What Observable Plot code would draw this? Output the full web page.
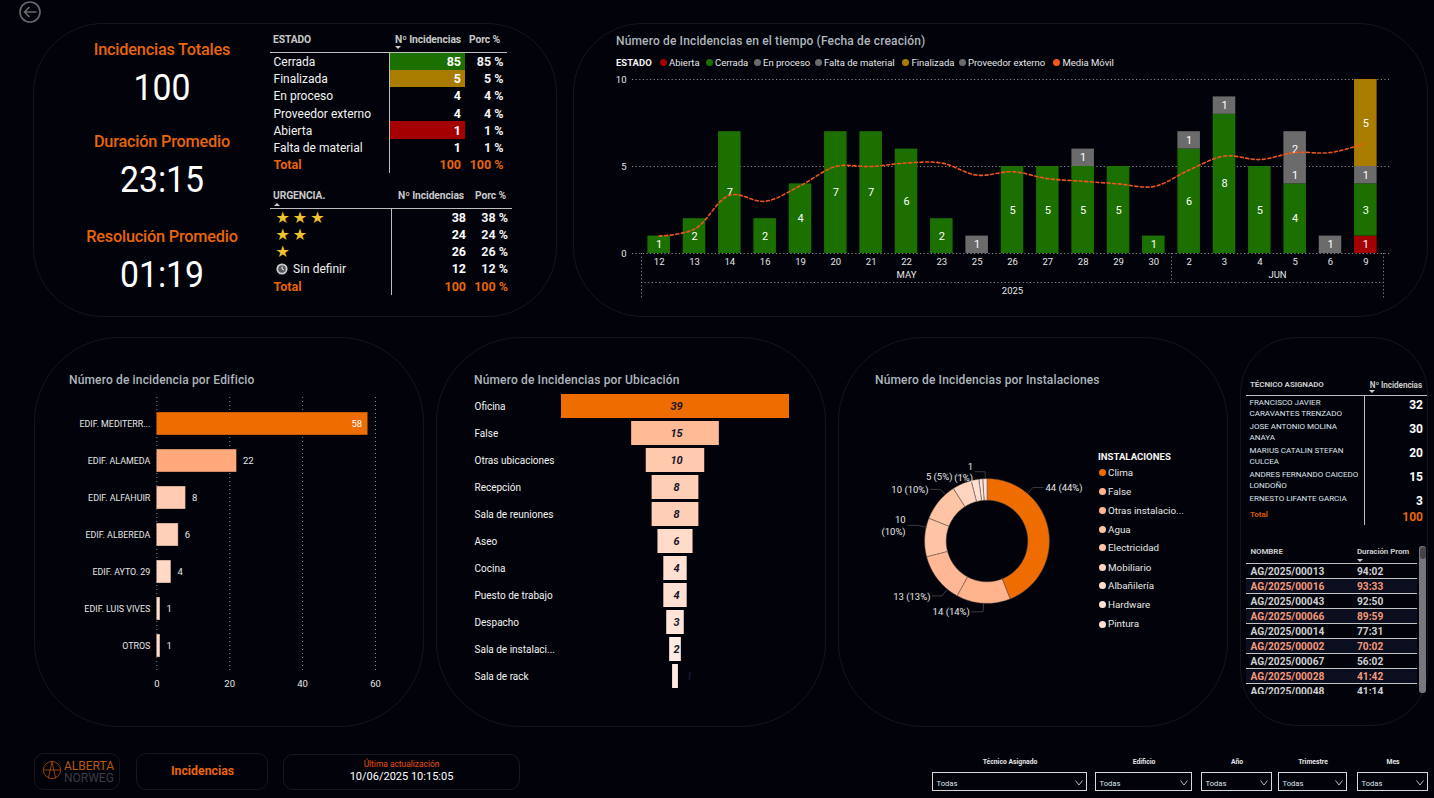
<!DOCTYPE html>
<html lang="es">
<head>
<meta charset="utf-8">
<title>Incidencias</title>
<script src="https://cdn.jsdelivr.net/npm/d3@7"></script>
<script src="https://cdn.jsdelivr.net/npm/@observablehq/plot@0.6"></script>
<style>
  html,body{margin:0;padding:0;background:#02030a;overflow:hidden}
  #page{position:relative;width:1434px;height:798px;background:#02030a;overflow:hidden;font-family:Roboto,sans-serif;color:#fff}
  #page div,#page span{white-space:nowrap}
  #page svg{display:block}
  .abs{position:absolute}
  svg.plot-abs{position:absolute;overflow:visible;background:transparent}
</style>
</head>
<body>
<div id="page"></div>
<script>
// ---------- DATA ----------
const totalIncidencias = "100";
const duracionPromedio = "23:15";
const resolucionPromedio = "01:19";

const estadoNames  = ["Cerrada","Finalizada","En proceso","Proveedor externo","Abierta","Falta de material"];
const estadoCounts = [85,5,4,4,1,1];
const urgenciaCounts = [38,24,26,12];
const urgenciaStars  = ["★★★","★★","★",""];

const estadoOrder = ["Abierta","Cerrada","En proceso","Falta de material","Finalizada","Proveedor externo"];
const dayLabels = ["12","13","14","16","19","20","21","22","23","25","26","27","28","29","30","2","3","4","5","6","9"];
const abierta    = [0,0,0,0,0,0,0,0,0,0,0,0,0,0,0,0,0,0,0,0,1];
const cerrada    = [1,2,7,2,4,7,7,6,2,0,5,5,5,5,1,6,8,5,4,0,3];
const enProceso  = [0,0,0,0,0,0,0,0,0,0,0,0,1,0,0,0,1,0,0,1,1];
const faltaMat   = [0,0,0,0,0,0,0,0,0,0,0,0,0,0,0,0,0,0,1,0,0];
const finalizada = [0,0,0,0,0,0,0,0,0,0,0,0,0,0,0,0,0,0,0,0,5];
const proveedor  = [0,0,0,0,0,0,0,0,0,1,0,0,0,0,0,1,0,0,2,0,0];
const mediaMovil = [1.0,1.4,3.35,3.0,3.9,5.0,5.0,5.2,5.2,4.5,4.7,4.3,4.15,4.0,3.85,4.8,5.6,5.4,5.8,5.8,6.35];
const monthNames = ["MAY","JUN"];
const monthEdges = [0,15,21];
const yearName = "2025";

const edificios = ["EDIF. MEDITERR...","EDIF. ALAMEDA","EDIF. ALFAHUIR","EDIF. ALBEREDA","EDIF. AYTO. 29","EDIF. LUIS VIVES","OTROS"];
const edificioValues = [58,22,8,6,4,1,1];

const ubicaciones = ["Oficina","False","Otras ubicaciones","Recepción","Sala de reuniones","Aseo","Cocina","Puesto de trabajo","Despacho","Sala de instalaci...","Sala de rack"];
const ubicacionValues = [39,15,10,8,8,6,4,4,3,2,1];

const instalaciones = ["Clima","False","Otras instalacio...","Agua","Electricidad","Mobiliario","Albañilería","Hardware","Pintura"];
const instalacionValues = [44,14,13,10,10,5,2,1,1];

const tecnicos = [["FRANCISCO JAVIER","CARAVANTES TRENZADO"],["JOSE ANTONIO MOLINA","ANAYA"],["MARIUS CATALIN STEFAN","CULCEA"],["ANDRES FERNANDO CAICEDO","LONDOÑO"],["ERNESTO LIFANTE GARCIA"]];
const tecnicoValues = [32,30,20,15,3];
const nombres = ["AG/2025/00013","AG/2025/00016","AG/2025/00043","AG/2025/00066","AG/2025/00014","AG/2025/00002","AG/2025/00067","AG/2025/00028","AG/2025/00048"];
const duraciones = ["94:02","93:33","92:50","89:59","77:31","70:02","56:02","41:42","41:14"];
const filtros = ["Técnico Asignado","Edificio","Año","Trimestre","Mes"];

// ---------- STYLE / LAYOUT CONSTANTS ----------
const ORANGE="#ee6c00", GREEN="#1c7000", GOLD="#a97c00", GRAY="#6b6b6b", RED="#a40000", LINE="#f0561c";
const FONT="Roboto, sans-serif";
const page=document.getElementById("page");

function box(x,y,w,h,css=""){const d=document.createElement("div");d.className="abs";
  d.style.cssText=`left:${x}px;top:${y}px;width:${w}px;height:${h}px;${css}`;page.appendChild(d);return d;}
// text centred vertically on y; align: l (x = left edge), r (x = right edge), c (x = centre)
function put(t,x,y,size,color,align="l",css="",parent=page){const d=document.createElement("div");d.className="abs";
  const tx=align==="r"?"-100%":align==="c"?"-50%":"0";
  d.style.cssText=`left:${x}px;top:${y}px;transform:translate(${tx},-50%);font-size:${size}px;color:${color};line-height:1;${css}`;
  d.textContent=t;parent.appendChild(d);return d;}
function place(svg,x,y){svg.classList.add("plot-abs");svg.style.left=x+"px";svg.style.top=y+"px";page.appendChild(svg);return svg;}
// small sort marker
function tri(x,y,up){const d=box(x-3,y,0,0,`border-left:3px solid transparent;border-right:3px solid transparent;${up?"border-bottom":"border-top"}:3px solid #d0d0d0`);return d;}
const panelBorder="border:1px solid #15151b;box-sizing:border-box;";
const plotStyle={background:"transparent",color:"#e6e6e6",fontFamily:FONT,fontSize:"10px",overflow:"visible"};

// ---------- PANELS ----------
box(33,23,524,294,panelBorder+"border-radius:70px;");
box(573,23,855,294,panelBorder+"border-radius:70px;");
box(34,337,390,390,panelBorder+"border-radius:85px;");
box(436,337,390,390,panelBorder+"border-radius:85px;");
box(838,337,390,390,panelBorder+"border-radius:85px;");
box(1240,337,188,389,panelBorder+"border-radius:56px;");

// back arrow
{const d=box(19,1,22,22,"");d.innerHTML=`<svg width="22" height="22" viewBox="0 0 22 22" fill="none" stroke="#6a6a6a" stroke-width="1.6"><circle cx="11" cy="11" r="10"/><path d="M17.5 11H5.5M10.5 6l-5 5 5 5"/></svg>`;}

// ---------- KPI ----------
const kpiTitle="font-weight:500;letter-spacing:-.2px;";
const kpiNum=(t,y)=>{const e=put(t,162,y,37.5,"#fff","c");e.style.transform+=" scaleX(.9)";};
put("Incidencias Totales",162,49.5,16.3,"#e8650a","c",kpiTitle);
kpiNum(totalIncidencias,87.5);
put("Duración Promedio",162,141.5,16.3,"#e8650a","c",kpiTitle);
kpiNum(duracionPromedio,179.5);
put("Resolución Promedio",162,236.5,16.3,"#e8650a","c",kpiTitle);
kpiNum(resolucionPromedio,274.5);

// ---------- TABLE ESTADO ----------
const head="font-weight:700;letter-spacing:-.1px;";
put("ESTADO",273,39.5,10.3,"#c8c8c8","l",head);
put("Nº Incidencias",461,39.5,10.3,"#c8c8c8","r",head);
put("Porc %",500,39.5,10.3,"#c8c8c8","r",head);
tri(397.5,45.5,false);
box(270,52,237,1,"background:#bdbdbd");
box(389,53,1,120,"background:#bdbdbd");
const estadoY=[61.7,78.7,95.7,113.7,130.7,147.7];
const estadoFill={Cerrada:GREEN,Finalizada:GOLD,Abierta:RED};
const cellTop=[53,70,87,104,121,139,156];
const sum=a=>a.reduce((p,c)=>p+c,0);
estadoNames.forEach((n,i)=>{
  if(estadoFill[n]) box(390,cellTop[i],75,cellTop[i+1]-cellTop[i],`background:${estadoFill[n]}`);
  put(n,273.5,estadoY[i],12,"#f2f2f2");
  put(String(estadoCounts[i]),461,estadoY[i],12.5,"#fff","r","font-weight:700");
  put(estadoCounts[i]+" %",503.5,estadoY[i],12.5,"#f2f2f2","r","font-weight:700");
});
put("Total",273.5,164.7,12.5,"#e8650a","l","font-weight:700");
put(String(sum(estadoCounts)),461,164.7,12.5,"#e8650a","r","font-weight:700");
put(sum(estadoCounts)+" %",503.5,164.7,12.5,"#e8650a","r","font-weight:700");

// ---------- TABLE URGENCIA ----------
put("URGENCIA.",273,195.5,10.3,"#c8c8c8","l",head);
put("Nº Incidencias",464,195.5,10.3,"#c8c8c8","r",head);
put("Porc %",506,195.5,10.3,"#c8c8c8","r",head);
tri(277,202.5,true);
box(270,208,242,1,"background:#bdbdbd");
box(391,209,1,86,"background:#bdbdbd");
const urgY=[218.3,235,251.7,269.3];
urgenciaCounts.forEach((v,i)=>{
  if(urgenciaStars[i]) put(urgenciaStars[i],275.5,urgY[i],16,"#f1c232","l","font-family:'DejaVu Sans';letter-spacing:3px;");
  else{
    put("Sin definir",293,urgY[i],12,"#f2f2f2");
    const c=box(276,urgY[i]-6,12,12,"");
    c.innerHTML=`<svg width="12" height="12" viewBox="0 0 12 12"><circle cx="6" cy="6" r="5.6" fill="#cfcfcf"/><circle cx="6" cy="6" r="3.8" fill="#55575f"/><path d="M6 3.4V6l2 1" stroke="#fff" stroke-width=".9" fill="none"/></svg>`;
  }
  put(String(v),466,urgY[i],12.5,"#fff","r","font-weight:700");
  put(v+" %",508,urgY[i],12.5,"#f2f2f2","r","font-weight:700");
});
put("Total",273.5,286.7,12.5,"#e8650a","l","font-weight:700");
put(String(sum(urgenciaCounts)),466,286.7,12.5,"#e8650a","r","font-weight:700");
put(sum(urgenciaCounts)+" %",508,286.7,12.5,"#e8650a","r","font-weight:700");

// ---------- TIME CHART ----------
const titleCss="font-weight:500;letter-spacing:.15px;";
put("Número de Incidencias en el tiempo (Fecha de creación)",616,41,12,"#aeb5bc","l",titleCss);
put("ESTADO",616,62.5,9.5,"#f4f4f4","l","font-weight:700");
const legendItems=[["Abierta",RED,663],["Cerrada",GREEN,709],["En proceso",GRAY,757],["Falta de material",GRAY,818],["Finalizada",GOLD,905.5],["Proveedor externo",GRAY,962],["Media Móvil",LINE,1056.5]];
legendItems.forEach(([t,c,x])=>{
  box(x-3.5,59,7,7,`background:${c};border-radius:50%`);
  put(t,x+6,62.5,9.5,"#e6e6e6");
});
const estadoFillByName={"Abierta":RED,"Cerrada":GREEN,"En proceso":GRAY,"Falta de material":GRAY,"Finalizada":GOLD,"Proveedor externo":GRAY};
const estadoSeries={"Abierta":abierta,"Cerrada":cerrada,"En proceso":enProceso,"Falta de material":faltaMat,"Finalizada":finalizada,"Proveedor externo":proveedor};
const stacked=estadoOrder.flatMap(e=>estadoSeries[e].map((v,i)=>({i,estado:e,v})).filter(d=>d.v>0));
const dayIdx=dayLabels.map((_,i)=>i);
const monthLabels=monthNames.map((m,k)=>({x:(monthEdges[k]+monthEdges[k+1])/2,m}));
const dash={stroke:"#8a8a8a",strokeDasharray:"1.2,2.4",strokeWidth:1};
place(Plot.plot({
  width:800,height:240,marginLeft:41,marginRight:17,marginTop:9,marginBottom:57,
  style:plotStyle,
  x:{domain:[0,21],axis:null},
  y:{domain:[0,10],axis:null},
  color:{domain:estadoOrder,range:estadoOrder.map(e=>estadoFillByName[e])},
  marks:[
    Plot.ruleY([0,5,10],{...dash,insetLeft:-9,insetRight:-6}),
    Plot.axisY({ticks:[0,5,10],tickSize:0,tickPadding:15,label:null,fontSize:9.5}),
    Plot.axisX(monthEdges.filter(e=>e!==15),{tickSize:45,tickFormat:()=>"",...dash}),
    Plot.axisX([15],{tickSize:29,tickFormat:()=>"",...dash}),
    Plot.ruleY([0],{...dash,dy:29}),
    Plot.axisX(dayIdx.map(i=>i+.5),{tickSize:0,tickPadding:5,tickFormat:v=>dayLabels[v-.5],label:null,fontSize:9.5,color:"#e6e6e6"}),
    Plot.text(monthLabels,{x:"x",text:"m",frameAnchor:"bottom",dy:24,fontSize:9.5,fill:"#e6e6e6"}),
    Plot.text([yearName],{x:10.5,text:d=>d,frameAnchor:"bottom",dy:40,fontSize:9.5,fill:"#e6e6e6"}),
    Plot.rectY(stacked,{x:"i",y:"v",interval:1,fill:"estado",z:"estado",order:estadoOrder,insetLeft:6.4,insetRight:6.4}),
    Plot.text(stacked,Plot.stackY({x:d=>d.i+.5,y:"v",z:"estado",order:estadoOrder,text:"v",fill:"#fff",fontSize:11})),
    Plot.line(mediaMovil,{x:(d,i)=>i+.5,y:d=>d,curve:"catmull-rom",stroke:LINE,strokeWidth:1.6,strokeDasharray:"3,2.6"})
  ]
}),600,70);

// ---------- EDIFICIO ----------
put("Número de incidencia por Edificio",69,380,12,"#aeb5bc","l",titleCss);
const edificioData=edificios.map((n,i)=>({n,v:edificioValues[i]}));
const shadeDomain=[1,4,6,8,22,58];
const shadeRange=["#ffdccc","#ffd8c6","#ffd0b9","#ffccb3","#ffa97d",ORANGE];
const edificioTop=d3.max(edificioValues);
place(Plot.plot({
  width:380,height:310,marginLeft:116.3,marginRight:45,marginTop:7,marginBottom:28,
  style:plotStyle,
  x:{domain:[0,60],axis:null},
  y:{domain:edificios,padding:.375,axis:null},
  color:{type:"linear",domain:shadeDomain,range:shadeRange},
  marks:[
    Plot.gridX({ticks:[0,20,40,60],stroke:"#8a8a8a",strokeOpacity:1,strokeDasharray:"1,3"}),
    Plot.axisY({tickSize:0,tickPadding:6.5,label:null,fontSize:8.9,color:"#e6e6e6"}),
    Plot.axisX({ticks:[0,20,40,60],tickSize:0,tickPadding:8,label:null,fontSize:9.5,color:"#e6e6e6"}),
    Plot.barX(edificioData,{x:"v",y:"n",fill:"v",stroke:"#000",strokeOpacity:.35}),
    Plot.text(edificioData.filter(d=>d.v===edificioTop),{x:"v",y:"n",text:"v",textAnchor:"end",dx:-6,fill:"#fff",fontSize:9.5}),
    Plot.text(edificioData.filter(d=>d.v!==edificioTop),{x:"v",y:"n",text:"v",textAnchor:"start",dx:6,fill:"#e6e6e6",fontSize:9.5})
  ]
}),40,390);

// ---------- UBICACION (funnel) ----------
put("Número de Incidencias por Ubicación",474,380,12,"#aeb5bc","l",titleCss);
const ubicData=ubicaciones.map((n,i)=>({n,v:ubicacionValues[i]}));
place(Plot.plot({
  width:330,height:305,marginLeft:87,marginRight:15,marginTop:.7,marginBottom:1.3,
  style:plotStyle,
  x:{domain:[-19.5,19.5],axis:null},
  y:{domain:ubicaciones,padding:.12,axis:null},
  color:{type:"linear",domain:[1,2,3,4,6,8,10,15,39],range:["#ffe9e1","#ffebe3","#ffe5da","#ffe0d2","#ffdcca","#ffceb7","#ffc9ae","#ffba96",ORANGE]},
  marks:[
    Plot.barX(ubicData,{x1:d=>-d.v/2,x2:d=>d.v/2,y:"n",fill:"v"}),
    Plot.text(ubicData,{y:"n",text:"n",frameAnchor:"left",textAnchor:"start",dx:-87,fill:"#f2f2f2",fontSize:10}),
    Plot.text(ubicData.filter(d=>d.v>1),{x:0,y:"n",text:"v",dx:1,fill:"#16162a",fontSize:11,fontWeight:700,fontStyle:"italic"}),
    Plot.text(ubicData.filter(d=>d.v===1),{x:d=>d.v/2,y:"n",text:"v",dx:11,fill:"#16162a",fontSize:11,fontWeight:700,fontStyle:"italic"})
  ]
}),474,388.5);

// ---------- INSTALACIONES (donut) ----------
put("Número de Incidencias por Instalaciones",875,380,12,"#aeb5bc","l",titleCss);
const R0=40.8/62.3, R1=1;
const rad=d=>d*Math.PI/180;
const polar=(deg,r)=>({x:r*Math.sin(rad(deg)),y:r*Math.cos(rad(deg))});
const pieTotal=sum(instalacionValues);
let acum=0;
const ringPts=instalaciones.flatMap((n,k)=>{
  const a0=acum/pieTotal*360; acum+=instalacionValues[k]; const a1=acum/pieTotal*360;
  return d3.range(0,Math.ceil(a1-a0)+1).map(j=>{
    const a=Math.min(a0+j,a1), p0=polar(a,R0), p1=polar(a,R1);
    return {n,v:instalacionValues[k],x1:p0.x,y1:p0.y,x2:p1.x,y2:p1.y};
  });
});
// callouts: angle on the ring, elbow radius, horizontal run (radii), label text, side
const callouts=[
  {a:40,  e:1.13,run:.17, t:"44 (44%)",   side:1},
  {a:183.6,e:1.13,run:.18,t:"14 (14%)",   side:-1},
  {a:220, e:1.14,run:.15, t:"13 (13%)",   side:-1},
  {a:283, e:1.15,run:.16, t:"10\n(10%)",  side:-1},
  {a:318, e:1.125,run:.16,t:"10 (10%)",   side:-1},
  {a:340, e:1.12,run:.147,t:"5 (5%)",     side:-1},
  {a:358, e:1.12,run:.16, t:"1\n(1%)",    side:-1}
];
const leaderPts=callouts.flatMap((c,k)=>{
  const s=polar(c.a,1.01), m=polar(c.a,c.e);
  return [{k,...s},{k,...m},{k,x:m.x+c.side*c.run,y:m.y}];
});
const labelPts=callouts.map(c=>{const m=polar(c.a,c.e);return {x:m.x+c.side*c.run,y:m.y,t:c.t,side:c.side};});
const shade=d3.scaleLinear().domain([1,5,10,13,14,44]).range(["#ffe2d5","#ffd5c2","#ffc3a5","#ffb795","#ffb48e",ORANGE]);
place(Plot.plot({
  width:212,height:180,margin:0,
  style:{...plotStyle,overflow:"visible"},
  x:{domain:[-1.7,1.7],axis:null},
  y:{domain:[-1.4438,1.4438],axis:null},
  color:{type:"linear",domain:[1,5,10,13,14,44],range:["#ffe2d5","#ffd5c2","#ffc3a5","#ffb795","#ffb48e",ORANGE]},
  marks:[
    Plot.area(ringPts,{x1:"x1",y1:"y1",x2:"x2",y2:"y2",z:"n",fill:"v",stroke:"#5f5048",strokeWidth:.5}),
    Plot.line(leaderPts,{x:"x",y:"y",z:"k",stroke:"#4a4a4a",strokeWidth:.8}),
    Plot.text(labelPts.filter(d=>d.side>0),{x:"x",y:"y",text:"t",textAnchor:"start",dx:2,fill:"#e6e6e6",fontSize:9.5}),
    Plot.text(labelPts.filter(d=>d.side<0),{x:"x",y:"y",text:"t",textAnchor:"end",dx:-2,fill:"#e6e6e6",fontSize:9.5,lineHeight:1.2})
  ]
}),880.7,450.7);
put("INSTALACIONES",1098,456.5,9.6,"#f4f4f4","l","font-weight:700");
const instY=[472.7,491.7,510.7,529.7,547.7,567.7,585.7,604.7,624.3];
instalaciones.forEach((n,i)=>{
  box(1098.5,instY[i]-3.5,7,7,`background:${shade(instalacionValues[i])};border-radius:50%`);
  put(n,1108,instY[i],9.8,"#e6e6e6");
});

// ---------- TECNICOS ----------
put("TÉCNICO ASIGNADO",1250,384.5,8,"#c8c8c8","l",head);
put("Nº Incidencias",1422,384.5,8.2,"#c8c8c8","r",head);
tri(1371.5,390,false);
box(1246,395,181,1,"background:#bdbdbd");
box(1364,396,1,129,"background:#bdbdbd");
const tecY=[403,427,451,475,499];
const tecValY=[405,429,453,477,501];
tecnicos.forEach((lines,i)=>{
  lines.forEach((l,j)=>put(l,1249.5,tecY[i]+j*11,8,"#dfe4ec"));
  put(String(tecnicoValues[i]),1423,tecValY[i],12,"#fff","r","font-weight:700");
});
put("Total",1250,515,8,"#d65a00","l","font-weight:700");
put(String(sum(tecnicoValues)),1423,517,12,"#e8650a","r","font-weight:700");

// ---------- NOMBRE / DURACION ----------
put("NOMBRE",1250.5,552,8,"#c8c8c8","l",head);
put("Duración Prom",1357,552,8,"#c8c8c8","l",head);
tri(1359.5,558.5,false);
box(1246,563,171,1,"background:#bdbdbd");
const clip=box(1246,564,171,130,"overflow:hidden");
nombres.forEach((n,i)=>{
  const y=i*15;
  const row=document.createElement("div");row.className="abs";
  row.style.cssText=`left:0;top:${y}px;width:171px;height:14px;background:${i%2?"#0a0e1e":"transparent"};border-bottom:1px solid #c4c4c4`;
  clip.appendChild(row);
  const col=i%2?"#f4997a":"#cfcfcf";
  put(n,4.5,y+8,10.2,col,"l","font-weight:700;",clip);
  put(duraciones[i],111,y+8,10.2,col,"l","font-weight:700;",clip);
});
box(1419,546,7,147,"background:#77777d;border-radius:3px");
box(1420,546.5,5.5,12,"background:#44444a;border-radius:3px");

// ---------- FOOTER ----------
const footBorder="border:1px solid #17171c;box-sizing:border-box;border-radius:10px;";
box(34,753,86,37,footBorder);
{const d=box(42,760,22,22,"");d.innerHTML=`<svg width="20" height="20" viewBox="0 0 22 22" fill="none" stroke="#b04e08" stroke-width=".9"><circle cx="11" cy="11" r="9.5"/><path d="M2 11h18M11 2L7 20M11 2l4 18"/></svg>`;}
put("ALBERTA",64,765.5,12,"#b8590e");
put("NORWEG",64,777.5,12,"#3c3c42");
box(136,753,132,37,footBorder);
put("Incidencias",202.5,771,12.3,"#e8650a","c","font-weight:700");
box(283,754,237,36,footBorder);
put("Última actualización",401.5,764,8.4,"#e8500f","c");
put("10/06/2025 10:15:05",401.5,775.5,11,"#fff","c");
const filtroBox=[[932,155],[1095,97],[1201,71],[1278,69],[1357,71]];
const filtroCx=[1010,1144,1237,1313,1393];
filtros.forEach((f,i)=>{
  const [x,w]=filtroBox[i];
  put(f,filtroCx[i],762,6.8,"#e6e6e6","c","font-weight:700");
  box(x,772,w,19,"border:1px solid #d8d8d8;box-sizing:border-box;");
  put("Todas",x+4.5,783.5,7.6,"#dfe4ec");
  const c=box(x+w-12,780,8,6,"");
  c.innerHTML=`<svg width="8" height="6" viewBox="0 0 8 6" fill="none" stroke="#cfcfcf" stroke-width=".9"><path d="M.5 .5L4 5L7.5 .5"/></svg>`;
});
</script>
</body>
</html>
